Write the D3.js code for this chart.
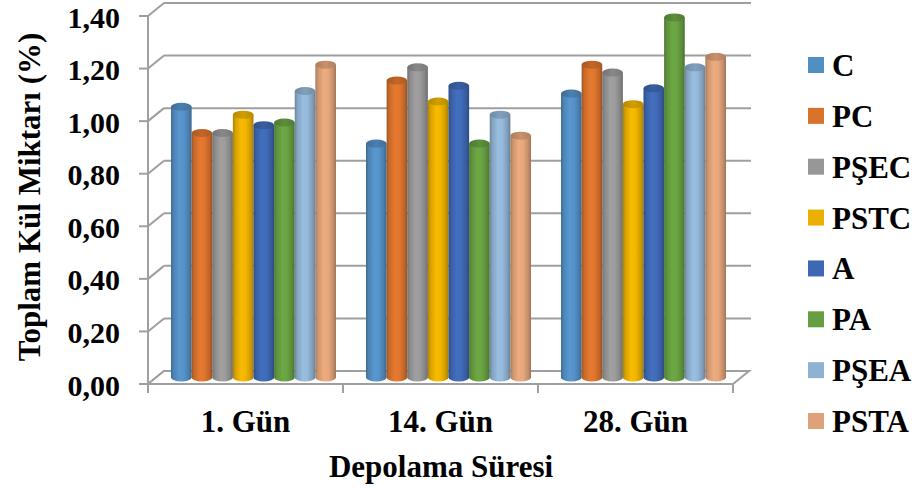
<!DOCTYPE html>
<html>
<head>
<meta charset="utf-8">
<script src="https://cdn.jsdelivr.net/npm/d3@7"></script>
<style>
  html, body { margin: 0; padding: 0; background: #fff; }
  #chartContainer { width: 918px; height: 488px; }
  text { font-family: "Liberation Serif", "Times New Roman", serif; font-weight: bold; fill: #000; }
</style>
</head>
<body>
<div id="chartContainer"></div>
<script>
// data
const categories = ["1. Gün", "14. Gün", "28. Gün"];
const seriesNames = ["C", "PC", "PŞEC", "PSTC", "A", "PA", "PŞEA", "PSTA"];
const seriesColors = ["#5B9BD5", "#ED7D31", "#A5A5A5", "#FFC000", "#4472C4", "#70AD47", "#9DC3E6", "#F4B183"];
const valC    = [1.03, 0.89, 1.08];
const valPC   = [0.93, 1.13, 1.19];
const valPSEC = [0.93, 1.18, 1.16];
const valPSTC = [1.00, 1.05, 1.04];
const valA    = [0.96, 1.11, 1.10];
const valPA   = [0.97, 0.89, 1.37];
const valPSEA = [1.09, 1.00, 1.18];
const valPSTA = [1.19, 0.92, 1.22];
const yTicks = [0, 0.2, 0.4, 0.6, 0.8, 1.0, 1.2, 1.4];
const yTitle = "Toplam Kül Miktarı (%)";
const xTitle = "Depolama Süresi";

function createChart() {
    const width = 918, height = 488;
    const allValues = [valC, valPC, valPSEC, valPSTC, valA, valPA, valPSEA, valPSTA];
    const table = categories.map((cat, ci) => ({
        cat,
        values: seriesNames.map((name, si) => ({ name, si, value: allValues[si][ci] }))
    }));

    const svg = d3.select("#chartContainer").append("svg")
        .attr("width", width)
        .attr("height", height);

    const GRID = "#9f9f9f";
    const depthX = 16, depthY = -13;      // fake 3D depth of the back wall

    const y = d3.scaleLinear().domain([0, 1.4]).range([384, 16]);
    const x = d3.scaleBand().domain(categories).range([148, 733]);
    const xBar = d3.scaleBand().domain(categories).range([148, 733])
        .paddingInner(0.154).paddingOuter(0.077);
    const xSeries = d3.scaleBand().domain(seriesNames).range([0, xBar.bandwidth()]);
    const comma = d3.formatLocale({ decimal: ",", thousands: ".", grouping: [3], currency: ["", ""] }).format(".2f");

    // gradients for cylinders
    const defs = svg.append("defs");
    seriesColors.forEach((c, i) => {
        const base = d3.color(c);
        const g = defs.append("linearGradient").attr("id", "cyl" + i)
            .attr("x1", "0%").attr("x2", "100%").attr("y1", "0%").attr("y2", "0%");
        [[0, base.darker(1.1)], [0.12, base.darker(0.5)], [0.4, base.darker(0.08)],
         [0.62, base.darker(0.15)], [0.86, base.darker(0.6)], [1, base.darker(1.2)]]
            .forEach(([o, col]) => g.append("stop").attr("offset", o).attr("stop-color", col.formatHex()));
        const t = defs.append("linearGradient").attr("id", "top" + i)
            .attr("x1", "0%").attr("x2", "100%").attr("y1", "0%").attr("y2", "0%");
        [[0, base.darker(1.0)], [0.5, base.darker(0.55)], [1, base.darker(0.9)]]
            .forEach(([o, col]) => t.append("stop").attr("offset", o).attr("stop-color", col.formatHex()));
    });

    // back wall gridlines + left wall diagonals
    const grid = svg.append("g").attr("stroke", GRID).attr("stroke-width", 2).attr("fill", "none");
    yTicks.forEach(t => {
        if (t > 0) {
            grid.append("line")
                .attr("x1", 148 + depthX).attr("x2", 733 + depthX + 2)
                .attr("y1", y(t) + depthY).attr("y2", y(t) + depthY);
        }
        grid.append("line")
            .attr("x1", 148).attr("x2", 148 + depthX)
            .attr("y1", y(t)).attr("y2", y(t) + depthY);
    });

    // floor
    svg.append("path")
        .attr("d", `M148,${y(0)} L733,${y(0)} L${733 + depthX},${y(0) + depthY} L${148 + depthX},${y(0) + depthY} Z`)
        .attr("fill", "#fff")
        .attr("stroke", GRID)
        .attr("stroke-width", 2);

    // value axis (front left edge)
    const yAxis = svg.append("g");
    yAxis.append("line").attr("x1", 148).attr("x2", 148).attr("y1", y(1.4)).attr("y2", y(0))
        .attr("stroke", GRID).attr("stroke-width", 2);
    yAxis.selectAll("line.tick").data(yTicks).enter().append("line")
        .attr("class", "tick")
        .attr("x1", 139).attr("x2", 148)
        .attr("y1", d => y(d)).attr("y2", d => y(d))
        .attr("stroke", GRID).attr("stroke-width", 2);
    yAxis.selectAll("text").data(yTicks).enter().append("text")
        .attr("x", 120)
        .attr("y", d => y(d) + 1)
        .attr("dy", "0.35em")
        .attr("text-anchor", "end")
        .style("font-size", "30px")
        .text(d => comma(d));

    // category ticks under the floor
    const catEdges = categories.map(c => x(c)).concat([x(categories[categories.length - 1]) + x.bandwidth()]);
    svg.append("g").selectAll("line").data(catEdges).enter().append("line")
        .attr("x1", d => d).attr("x2", d => d)
        .attr("y1", y(0)).attr("y2", y(0) + 9)
        .attr("stroke", GRID).attr("stroke-width", 2);

    svg.append("g").selectAll("text").data(categories).enter().append("text")
        .attr("x", d => x(d) + x.bandwidth() / 2)
        .attr("y", 432)
        .attr("text-anchor", "middle")
        .style("font-size", "31px")
        .text(d => d);

    // cylinders, sitting half way into the depth
    const midX = depthX / 2, midY = depthY / 2;
    const ry = 4;
    const bars = svg.append("g");
    table.forEach(row => {
        row.values.forEach(d => {
            const bx = xBar(row.cat) + xSeries(d.name) + midX;
            const w = xSeries.bandwidth();
            const top = y(d.value) + midY;
            const bottom = y(0) + midY;
            bars.append("path")
                .attr("d", `M${bx},${top} L${bx},${bottom} A${w / 2},${ry} 0 0 0 ${bx + w},${bottom} L${bx + w},${top} Z`)
                .attr("fill", `url(#cyl${d.si})`);
            bars.append("ellipse")
                .attr("cx", bx + w / 2).attr("cy", top)
                .attr("rx", w / 2).attr("ry", ry)
                .attr("fill", `url(#top${d.si})`);
        });
    });

    // axis titles
    svg.append("text")
        .attr("transform", `translate(40,197) rotate(-90)`)
        .attr("text-anchor", "middle")
        .style("font-size", "31px")
        .text(yTitle);

    svg.append("text")
        .attr("x", 441).attr("y", 477)
        .attr("text-anchor", "middle")
        .style("font-size", "31px")
        .text(xTitle);

    // legend
    const legend = svg.append("g");
    const item = legend.selectAll("g").data(seriesNames).enter().append("g")
        .attr("transform", (d, i) => `translate(808,${57 + i * 50.86})`);
    item.append("rect")
        .attr("width", 16).attr("height", 16)
        .attr("fill", (d, i) => d3.color(seriesColors[i]).darker(0.25).formatHex());
    item.append("text")
        .attr("x", 24).attr("y", 19)
        .style("font-size", "31px")
        .text(d => d);
}
createChart();
</script>
</body>
</html>
